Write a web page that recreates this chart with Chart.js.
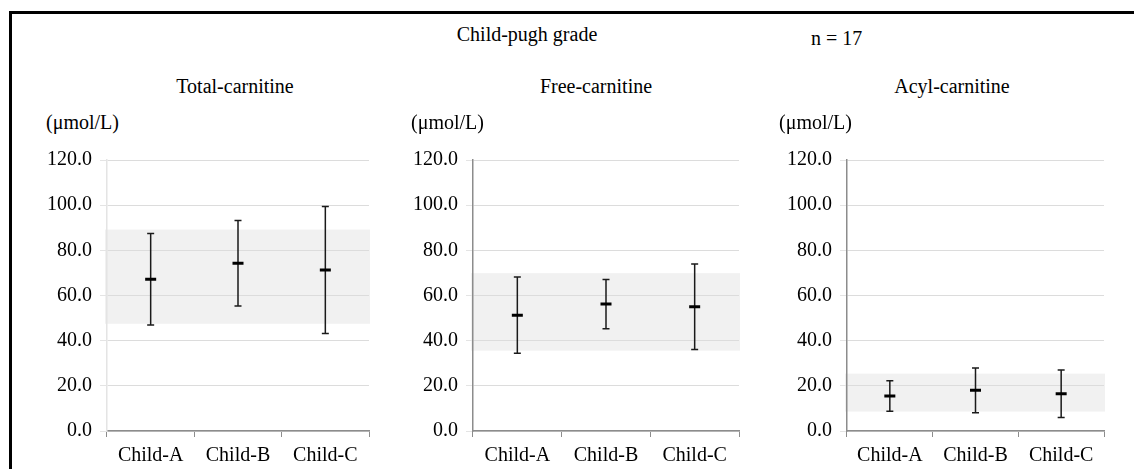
<!DOCTYPE html>
<html>
<head>
<meta charset="utf-8">
<script src="https://cdn.jsdelivr.net/npm/chart.js@4/dist/chart.umd.min.js"></script>
<style>
  body { margin: 0; background: #fff; width: 1134px; height: 469px; overflow: hidden; position: relative; font-family: "Liberation Serif", "Times New Roman", serif; color: #000; }
  .frame { position: absolute; left: 9px; top: 11px; width: 1200px; height: 600px; border-top: 3px solid #000; border-left: 3px solid #000; }
  .txt { position: absolute; font-size: 20px; line-height: 20px; white-space: nowrap; }
  .center { text-align: center; width: 300px; }
  canvas { position: absolute; }
</style>
</head>
<body>
<div class="frame"></div>
<div class="txt center" style="left:377px; top:24px;">Child-pugh grade</div>
<div class="txt" style="left:811px; top:28px;">n = 17</div>

<canvas id="chart0" width="372" height="329" style="left:7px; top:140px;"></canvas>
<canvas id="chart1" width="376" height="329" style="left:373px; top:140px;"></canvas>
<canvas id="chart2" width="367" height="329" style="left:747px; top:140px;"></canvas>

<script>
// Daten
const categories = ['Child-A', 'Child-B', 'Child-C'];
const panelTitles = ['Total-carnitine', 'Free-carnitine', 'Acyl-carnitine'];
const unitLabel = '(\u03bcmol/L)';

const totalMean = [67.2, 74.3, 71.3];
const totalSD = [20.3, 18.9, 28.1];
const freeMean = [51.3, 56.2, 55.0];
const freeSD = [16.9, 10.9, 18.9];
const acylMean = [15.5, 18.0, 16.5];
const acylSD = [6.7, 9.9, 10.5];

// Referenzbereich (grau hinterlegt)
const refLow = [47.5, 35.6, 8.6];
const refHigh = [89.2, 69.9, 25.4];

const yMin = 0, yMax = 120, yStep = 20;

const means = [totalMean, freeMean, acylMean];
const sds = [totalSD, freeSD, acylSD];

// Layout der drei Felder
const titleX = [235, 596, 952];
const unitX = [46, 411, 779];
const yBorderColors = ['#e4e4e4', '#8c8c8c', '#8c8c8c'];

const FONT = { family: '"Liberation Serif", "Times New Roman", serif', size: 20 };

// Grauer Bereich hinter dem Gitter
const bandPlugin = {
    id: 'band',
    beforeDraw(chart, args, opts) {
        const { ctx, chartArea, scales } = chart;
        const top = scales.y.getPixelForValue(opts.high);
        const bottom = scales.y.getPixelForValue(opts.low);
        ctx.save();
        ctx.fillStyle = '#f1f1f1';
        ctx.fillRect(chartArea.left - 2, top, chartArea.right - chartArea.left + 3, bottom - top);
        ctx.restore();
    }
};

// Fehlerbalken (Mittelwert +/- SD)
const errorBarPlugin = {
    id: 'errorBars',
    beforeDatasetsDraw(chart, args, opts) {
        const { ctx, scales } = chart;
        ctx.save();
        ctx.strokeStyle = '#1a1a1a';
        ctx.lineWidth = 1.5;
        opts.mean.forEach((m, i) => {
            const x = scales.x.getPixelForValue(i);
            const yHi = scales.y.getPixelForValue(m + opts.sd[i]);
            const yLo = scales.y.getPixelForValue(m - opts.sd[i]);
            ctx.beginPath();
            ctx.moveTo(x, yHi);
            ctx.lineTo(x, yLo);
            ctx.moveTo(x - 3.5, yHi);
            ctx.lineTo(x + 3.5, yHi);
            ctx.moveTo(x - 3.5, yLo);
            ctx.lineTo(x + 3.5, yLo);
            ctx.stroke();
        });
        ctx.restore();
    }
};

for (let p = 0; p < 3; p++) {
    // Beschriftungen
    const t = document.createElement('div');
    t.className = 'txt center';
    t.style.left = (titleX[p] - 150) + 'px';
    t.style.top = '76px';
    t.textContent = panelTitles[p];
    document.body.appendChild(t);

    const u = document.createElement('div');
    u.className = 'txt';
    u.style.left = unitX[p] + 'px';
    u.style.top = '112px';
    u.textContent = unitLabel;
    document.body.appendChild(u);

    const ctx = document.getElementById('chart' + p).getContext('2d');
    new Chart(ctx, {
        type: 'line',
        data: {
            labels: categories,
            datasets: [{
                data: means[p],
                showLine: false,
                pointStyle: 'line',
                pointRadius: 5.5,
                pointHoverRadius: 5.5,
                pointBorderWidth: 3,
                borderColor: '#000',
                backgroundColor: '#000'
            }]
        },
        plugins: [bandPlugin, errorBarPlugin],
        options: {
            responsive: false,
            animation: false,
            devicePixelRatio: 1,
            layout: { padding: { top: 17, right: 10, left: 0, bottom: 0 } },
            plugins: {
                legend: { display: false },
                tooltip: { enabled: false },
                band: { low: refLow[p], high: refHigh[p] },
                errorBars: { mean: means[p], sd: sds[p] }
            },
            scales: {
                x: {
                    type: 'category',
                    offset: true,
                    afterFit(scale) { scale.height = 38; },
                    grid: {
                        offset: true,
                        drawOnChartArea: false,
                        tickLength: 6,
                        color: '#8c8c8c',
                        lineWidth: 1
                    },
                    border: { color: '#8c8c8c', width: 1.5 },
                    ticks: { color: '#000', font: FONT, padding: 7, maxRotation: 0 }
                },
                y: {
                    min: yMin,
                    max: yMax,
                    afterFit(scale) { scale.width = 100; },
                    grid: {
                        color: '#dcdcdc',
                        lineWidth: 1,
                        tickLength: 7,
                        tickColor: '#e4e4e4'
                    },
                    border: { color: yBorderColors[p], width: 1.5 },
                    ticks: {
                        stepSize: yStep,
                        color: '#000',
                        font: FONT,
                        padding: 8,
                        callback: v => v.toFixed(1)
                    }
                }
            }
        }
    });
}
</script>
</body>
</html>
